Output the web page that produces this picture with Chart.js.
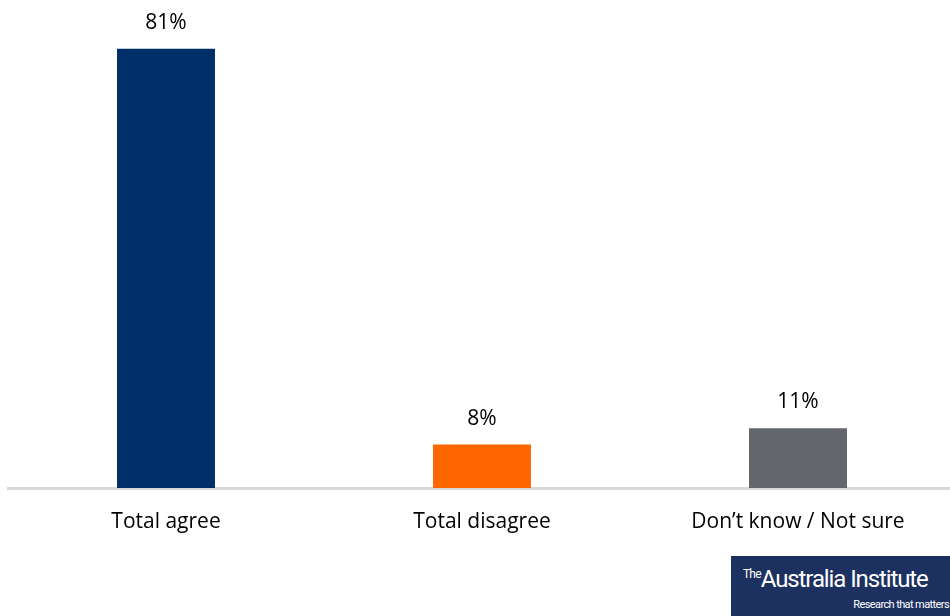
<!DOCTYPE html>
<html>
<head>
  <meta charset="utf-8">
  <title>Agree / disagree</title>
  <script src="https://cdn.jsdelivr.net/npm/chart.js@4/dist/chart.umd.min.js"></script>
  <style>
    html, body { margin: 0; padding: 0; overflow: hidden; background: #fff; }
    #wrap { position: relative; width: 950px; height: 616px; overflow: hidden; }
    #logo {
      position: absolute; left: 731px; top: 556px; width: 219px; height: 60px;
      background: #1d3160; color: #fff; font-family: "Roboto", sans-serif;
    }
    #logo .main { position: absolute; left: 12px; top: 9px; font-size: 24px; letter-spacing: -1.1px; white-space: nowrap; }
    #logo .main sup { font-size: 12px; vertical-align: 9px; letter-spacing: -0.8px; }
    #logo .sub { position: absolute; right: 1px; top: 42px; font-size: 11px; letter-spacing: -0.6px; white-space: nowrap; }
  </style>
</head>
<body>
<div id="wrap">
  <canvas id="chart" width="956" height="616" style="width:956px;height:616px;display:block;"></canvas>
  <div id="logo">
    <div class="main"><sup>The</sup>Australia Institute</div>
    <div class="sub">Research that matters</div>
  </div>
</div>
<script>
  const categories = ['Total agree', 'Total disagree', 'Don\u2019t know / Not sure'];
  const values = [81, 8, 11];
  const barColors = ['#003067', '#ff6600', '#63666a'];

  // value labels above each bar
  const valueLabels = {
    id: 'valueLabels',
    afterDatasetsDraw(chart) {
      const ctx = chart.ctx;
      const meta = chart.getDatasetMeta(0);
      ctx.save();
      ctx.font = '21px "Open Sans", sans-serif';
      ctx.fillStyle = '#000';
      ctx.textAlign = 'center';
      ctx.textBaseline = 'middle';
      meta.data.forEach((bar, i) => {
        ctx.fillText(values[i] + '%', bar.x, bar.y - 26);
      });
      ctx.restore();
    }
  };

  new Chart(document.getElementById('chart'), {
    type: 'bar',
    data: {
      labels: categories,
      datasets: [{
        data: values,
        backgroundColor: barColors,
        barPercentage: 0.31,
        categoryPercentage: 1
      }]
    },
    options: {
      responsive: false,
      animation: false,
      events: [],
      layout: { padding: { left: 8, right: 0, top: 0, bottom: 0 } },
      plugins: { legend: { display: false }, tooltip: { enabled: false } },
      scales: {
        x: {
          grid: { display: false, drawTicks: false },
          border: { display: true, color: '#d9d9d9', width: 3 },
          ticks: {
            color: '#000',
            padding: 21,
            font: { family: '"Open Sans", sans-serif', size: 21 }
          },
          afterFit(scale) { scale.height = 128; }
        },
        y: {
          display: false,
          min: 0,
          max: 90
        }
      }
    },
    plugins: [valueLabels]
  });
</script>
</body>
</html>
